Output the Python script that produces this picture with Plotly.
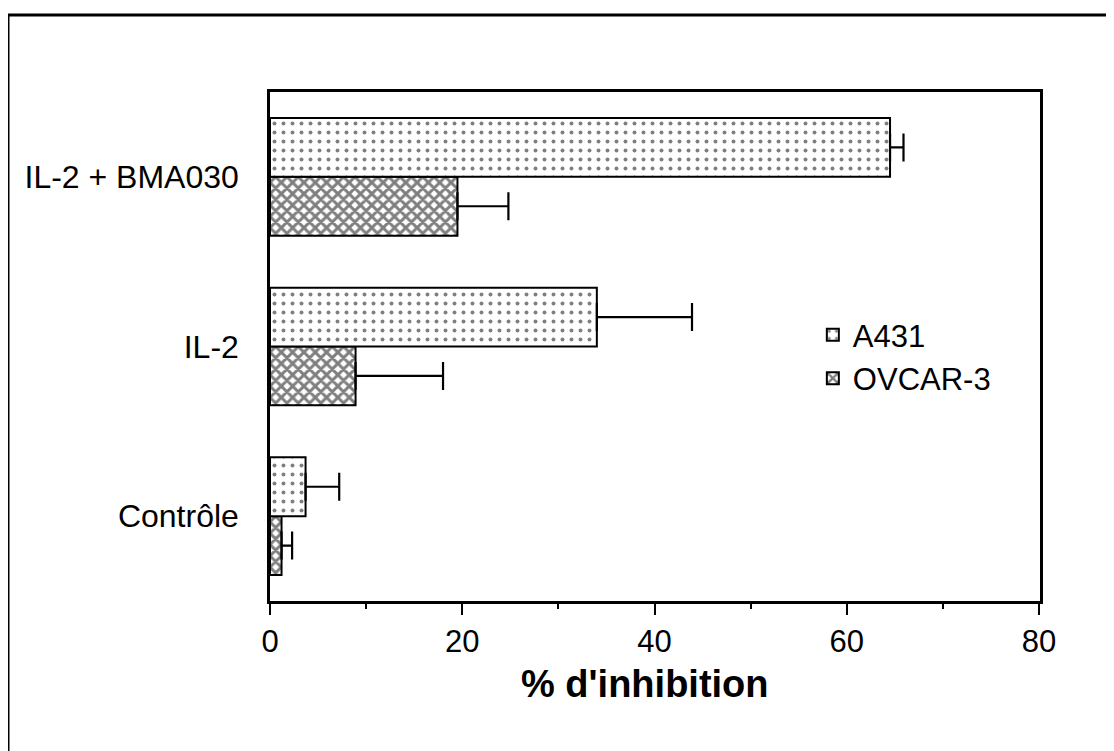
import plotly.graph_objects as go

categories = ["Contrôle", "IL-2", "IL-2 + BMA030"]
series_names = ["A431", "OVCAR-3"]
a431_values = [3.7, 34.0, 64.5]
a431_errors = [3.5, 9.9, 1.4]
ovcar_values = [1.2, 8.9, 19.5]
ovcar_errors = [1.1, 9.1, 5.3]
x_ticks = [0, 20, 40, 60, 80]
x_title = "% d'inhibition"

# the page body has an 8px margin; compensate so the figure lands where the reference is
OFF = 8
W, H = 1114 - OFF, 751 - OFF
L, R, T, B = 270 - OFF, 74, 92 - OFF, 150
pw, ph = W - L - R, H - T - B

def px_to_paper_x(px):
    return (px - OFF - L) / pw

def px_to_paper_y(py):
    return (H - B - (py - OFF)) / ph

font_family = "Liberation Sans, Arial, Helvetica, sans-serif"

fig = go.Figure()

fig.add_trace(go.Bar(
    y=categories, x=ovcar_values, orientation="h", name=series_names[1],
    marker=dict(color="white", line=dict(color="black", width=2),
                pattern=dict(shape="x", fgcolor="black", bgcolor="white", size=8, solidity=0.6)),
    error_x=dict(type="data", array=ovcar_errors, arrayminus=[0] * len(ovcar_errors),
                 symmetric=False, color="black", thickness=2.2, width=14),
))
fig.add_trace(go.Bar(
    y=categories, x=a431_values, orientation="h", name=series_names[0],
    marker=dict(color="white", line=dict(color="black", width=2),
                pattern=dict(shape=".", fgcolor="black", bgcolor="white", size=9, solidity=0.15)),
    error_x=dict(type="data", array=a431_errors, arrayminus=[0] * len(a431_errors),
                 symmetric=False, color="black", thickness=2.2, width=14),
))

fig.update_layout(
    width=W, height=H,
    margin=dict(l=L, r=R, t=T, b=B),
    paper_bgcolor="white", plot_bgcolor="white",
    barmode="group", bargap=0.306, bargroupgap=0,
    font=dict(family=font_family, color="black", size=30),
    showlegend=True,
    legend=dict(traceorder="reversed", x=0.705, y=0.48, xanchor="left", yanchor="middle",
                bgcolor="rgba(0,0,0,0)", font=dict(size=31, family=font_family, color="black")),
    xaxis=dict(range=[0, 80.1], tickvals=x_ticks, ticks="outside", ticklen=11, tickwidth=2,
               tickcolor="black", showline=True, linecolor="black", linewidth=2.5, mirror=True,
               showgrid=False, zeroline=False,
               minor=dict(dtick=10, ticks="outside", ticklen=5, tickwidth=2, tickcolor="black"),
               tickfont=dict(size=31, family=font_family, color="black")),
    yaxis=dict(type="category", categoryorder="array", categoryarray=categories,
               range=[-0.5, 2.5], showline=True, linecolor="black", linewidth=2.5, mirror=True,
               ticks="", showgrid=False, zeroline=False, ticklabelstandoff=22,
               tickfont=dict(size=32, family=font_family, color="black")),
    annotations=[
        dict(text="<b>" + x_title + "</b>", xref="paper", yref="paper",
             x=px_to_paper_x(645), y=px_to_paper_y(684), xanchor="center", yanchor="middle",
             showarrow=False, font=dict(size=38, family=font_family, color="black")),
    ],
    shapes=[
        dict(type="line", xref="paper", yref="paper", x0=px_to_paper_x(8), x1=px_to_paper_x(1120),
             y0=px_to_paper_y(15), y1=px_to_paper_y(15), line=dict(color="black", width=3)),
        dict(type="line", xref="paper", yref="paper", x0=px_to_paper_x(8), x1=px_to_paper_x(8),
             y0=px_to_paper_y(15), y1=px_to_paper_y(760), line=dict(color="black", width=3)),
    ],
)

fig.write_html("out.html")
